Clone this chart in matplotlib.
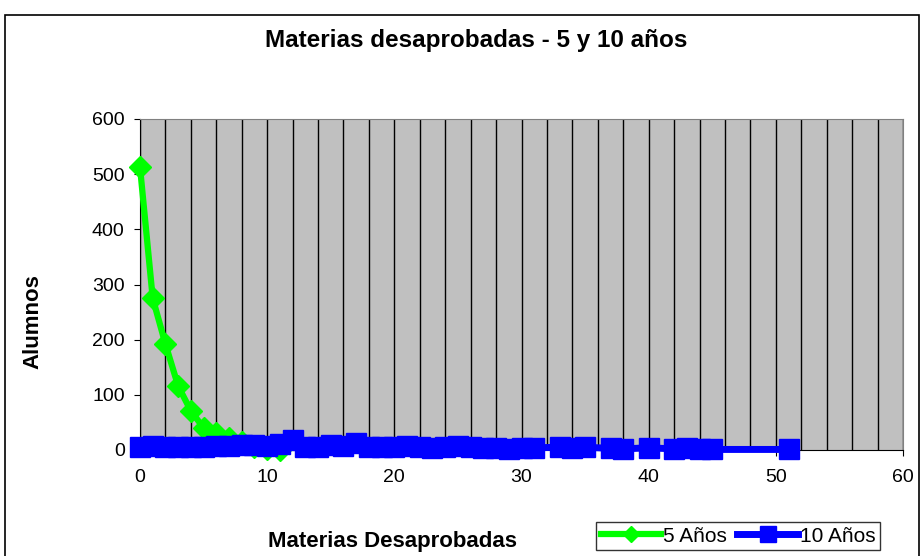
import matplotlib
matplotlib.use("Agg")
import matplotlib.pyplot as plt
from matplotlib.patches import Rectangle

plt.rcParams['font.family'] = ['Liberation Sans', 'DejaVu Sans']

title = "Materias desaprobadas - 5 y 10 años"
xlabel = "Materias Desaprobadas"
ylabel = "Alumnos"
series_names = ["5 Años", "10 Años"]

x5 = [0, 1, 2, 3, 4, 5, 6, 7, 8, 9, 10, 11]
y5 = [513, 275, 192, 116, 71, 40, 30, 22, 15, 6, 2, 0]

x10 = [0, 1, 2, 3, 4, 5, 6, 7, 8, 9, 10, 11, 12, 13, 14, 15, 16, 17, 18, 19,
       20, 21, 22, 23, 24, 25, 26, 27, 28, 29, 30, 31, 33, 34, 35, 37, 38,
       40, 42, 43, 44, 45, 51]
y10 = [5, 8, 6, 5, 5, 6, 7, 8, 9, 9, 7, 10, 18, 6, 5, 9, 8, 12, 6, 6,
       5, 7, 6, 4, 5, 7, 6, 4, 3, 2, 3, 4, 5, 4, 5, 3, 2,
       4, 2, 3, 2, 1, 1]

W, H = 921, 556
fig = plt.figure(figsize=(W / 100, H / 100), dpi=100)
fig.patch.set_facecolor('white')

# outer chart border
fig.patches.append(Rectangle((5 / W, -0.05), (919 - 5) / W, 1 - 15 / H + 0.05,
                             transform=fig.transFigure, fill=False,
                             edgecolor='black', linewidth=1.2, zorder=0))

ax = fig.add_axes([140 / W, 1 - 450 / H, (903 - 140) / W, (450 - 119) / H])
ax.set_facecolor('#C0C0C0')
ax.set_xlim(0, 60)
ax.set_ylim(0, 600)
ax.set_xticks(range(0, 61, 10))
ax.set_yticks(range(0, 601, 100))
ax.set_xticks(range(0, 61, 2), minor=True)
ax.xaxis.remove_overlapping_locs = False
ax.grid(True, which='minor', axis='x', color='black', linewidth=1)
ax.grid(False, which='major', axis='y')
ax.set_axisbelow(True)
for s in ['top', 'right']:
    ax.spines[s].set_color('#808080')
for s in ['left', 'bottom']:
    ax.spines[s].set_color('black')
ax.tick_params(which='major', labelsize=14, length=4, direction='out', color='black')
ax.tick_params(which='minor', length=0)
ax.tick_params(axis='y', pad=7)
ax.tick_params(axis='x', pad=10)

l1, = ax.plot(x5, y5, color='#00FF00', linewidth=4.5, marker='D', markersize=11,
              markeredgecolor='#00FF00', label=series_names[0], clip_on=False, zorder=3)
l2, = ax.plot(x10, y10, color='#0000FF', linewidth=5, marker='s', markersize=15,
              markeredgecolor='#0000FF', label=series_names[1], clip_on=False, zorder=4)

fig.text(476 / W, 1 - 40 / H, title, ha='center', va='center', fontsize=17.5, fontweight='bold')
fig.text(33 / W, 1 - 322 / H, ylabel, ha='center', va='center', rotation=90,
         fontsize=16, fontweight='bold')
fig.text(392 / W, 1 - 541 / H, xlabel, ha='center', va='center', fontsize=16, fontweight='bold')

leg = fig.legend(handles=[l1, l2], loc='center', ncol=2,
                 bbox_to_anchor=(738 / W, 1 - 536 / H), fontsize=15, frameon=True,
                 fancybox=False, edgecolor='black', handlelength=2.9, handletextpad=0.1,
                 columnspacing=0.5, borderpad=0.2, markerscale=0.75)
leg.get_frame().set_linewidth(1)

fig.savefig('out.png', dpi=100)
